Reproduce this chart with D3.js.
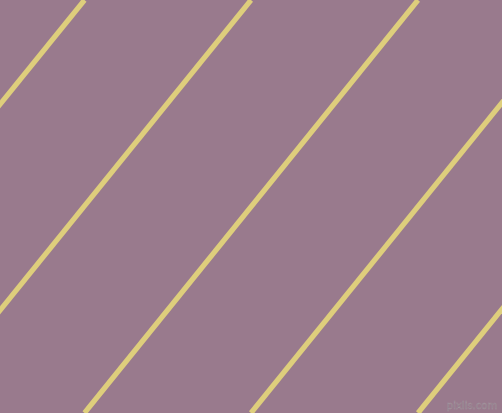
<!DOCTYPE html>
<html><head><meta charset="utf-8">
<script src="https://cdn.jsdelivr.net/npm/d3@7"></script>
<style>html,body{margin:0;padding:0;overflow:hidden;background:#997A8D}</style>
</head><body>
<svg id="c" width="502" height="413"></svg>
<script>
// Stripe x-positions where each line crosses the top (y=0) and bottom (y=413) edges
const topX = [84.5, 251, 418, 585, 752];
const bottomX = [-249.5, -83, 84.5, 251, 418];
const yDomain = [0, 413];
const watermark = "pixlis.com";

const W = 502, H = 413;
const svg = d3.select("#c");
const x = d3.scaleLinear().domain([0, W]).range([0, W]);
const y = d3.scaleLinear().domain(yDomain).range([0, H]);

svg.append("defs").append("clipPath").attr("id","clip")
  .append("rect").attr("width", W).attr("height", H);

svg.append("rect").attr("width", W).attr("height", H).attr("fill", "#997A8D");

const line = d3.line().x(d => x(d[0])).y(d => y(d[1]));
const g = svg.append("g").attr("clip-path","url(#clip)");
g.selectAll("path").data(topX.map((t,i) => [[t, yDomain[0]], [bottomX[i], yDomain[1]]]))
  .join("path")
  .attr("d", line)
  .attr("stroke", "#DECE7C")
  .attr("stroke-width", 5.2)
  .attr("fill", "none");

svg.append("text").attr("x", 472).attr("y", 409)
  .attr("text-anchor","middle")
  .attr("font-family","DejaVu Sans, sans-serif")
  .attr("font-size", 10)
  .attr("fill","#877380")
  .attr("stroke","#a89aa3").attr("stroke-width",0.4)
  .text(watermark);
</script>
</body></html>
